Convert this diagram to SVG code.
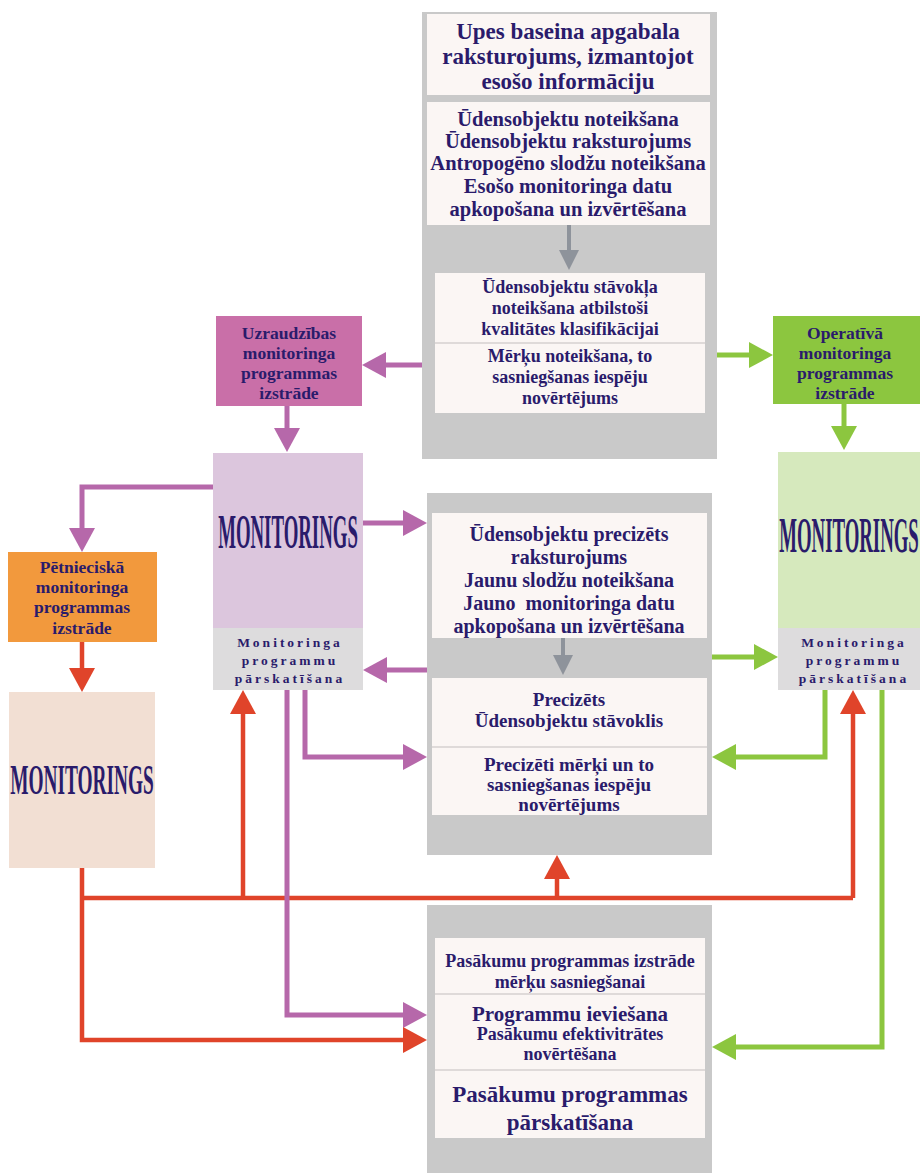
<svg xmlns="http://www.w3.org/2000/svg" width="920" height="1173" viewBox="0 0 920 1173">
<style>
.t{font-family:"Liberation Serif","DejaVu Serif",serif;font-weight:bold;fill:#2a1b6b;text-anchor:middle}
.big{font-size:23px}
.mid{font-size:20.5px}
.sm{font-size:18px}
.xs{font-size:17.5px}
.sp{font-family:"Liberation Serif","DejaVu Serif",serif;font-weight:bold;fill:#2a1b6b;text-anchor:middle;font-size:13.5px;letter-spacing:3px}
.mon{font-family:"Liberation Serif","DejaVu Serif",serif;font-weight:bold;fill:#2a1b6b;text-anchor:middle}
.col{fill:#c9c9c9}
.in{fill:#fbf6f4}
.dv{stroke:#d6d0d0;stroke-width:1.5}
.pu{fill:none;stroke:#b668aa;stroke-width:5}
.gr{fill:none;stroke:#8cc63f;stroke-width:5}
.rd{fill:none;stroke:#e0442a;stroke-width:4.5}
.gy{fill:none;stroke:#8e939b;stroke-width:4}
</style>
<defs>
<marker id="mp" markerUnits="userSpaceOnUse" markerWidth="24" markerHeight="26" refX="0" refY="13" orient="auto"><path d="M0,0 L24,13 L0,26 z" fill="#b668aa"/></marker>
<marker id="mg" markerUnits="userSpaceOnUse" markerWidth="24" markerHeight="26" refX="0" refY="13" orient="auto"><path d="M0,0 L24,13 L0,26 z" fill="#8cc63f"/></marker>
<marker id="mr" markerUnits="userSpaceOnUse" markerWidth="24" markerHeight="26" refX="0" refY="13" orient="auto"><path d="M0,0 L24,13 L0,26 z" fill="#e0442a"/></marker>
<marker id="my" markerUnits="userSpaceOnUse" markerWidth="20" markerHeight="20" refX="0" refY="10" orient="auto"><path d="M0,0 L20,10 L0,20 z" fill="#8e939b"/></marker>
</defs>
<rect width="920" height="1173" fill="#ffffff"/>

<g id="top-column">
<rect class="col" x="422" y="12" width="295" height="447"/>
<rect class="in" x="427" y="14" width="283" height="81" fill="#f7f0f1"/>
<text class="t big" x="568" y="39">Upes baseina apgabala</text>
<text class="t big" x="568" y="64">raksturojums, izmantojot</text>
<text class="t big" x="568" y="89">esošo informāciju</text>
<rect class="in" x="427" y="102" width="283" height="123"/>
<text class="t mid" x="568" y="126">Ūdensobjektu noteikšana</text>
<text class="t mid" x="568" y="148">Ūdensobjektu raksturojums</text>
<text class="t mid" x="568" y="170">Antropogēno slodžu noteikšana</text>
<text class="t mid" x="568" y="193">Esošo monitoringa datu</text>
<text class="t mid" x="568" y="216">apkopošana un izvērtēšana</text>
<rect class="in" x="435" y="273" width="270" height="140"/>
<line class="dv" x1="435" y1="343" x2="705" y2="343"/>
<text class="t sm" x="570" y="293">Ūdensobjektu stāvokļa</text>
<text class="t sm" x="570" y="314">noteikšana atbilstoši</text>
<text class="t sm" x="570" y="335">kvalitātes klasifikācijai</text>
<text class="t sm" x="570" y="362">Mērķu noteikšana, to</text>
<text class="t sm" x="570" y="383">sasniegšanas iespēju</text>
<text class="t sm" x="570" y="404">novērtējums</text>
</g>

<g id="uzraudzibas">
<rect x="216" y="316" width="146" height="90" fill="#c96fa8"/>
<text class="t xs" x="289" y="339">Uzraudzības</text>
<text class="t xs" x="289" y="359">monitoringa</text>
<text class="t xs" x="289" y="379">programmas</text>
<text class="t xs" x="289" y="399">izstrāde</text>
</g>

<g id="operativa">
<rect x="773" y="316" width="150" height="88" fill="#8cc63f"/>
<text class="t xs" x="845" y="339">Operatīvā</text>
<text class="t xs" x="845" y="359">monitoringa</text>
<text class="t xs" x="845" y="379">programmas</text>
<text class="t xs" x="845" y="399">izstrāde</text>
</g>

<g id="monitorings-left">
<rect x="213" y="453" width="150" height="175" fill="#dcc6dd"/>
<rect x="213" y="628" width="150" height="62" fill="#dddcdd"/>
<text class="mon" transform="translate(288,548) scale(0.392,1)" font-size="48">MONITORINGS</text>
<text class="sp" x="290" y="647">Monitoringa</text>
<text class="sp" x="290" y="665">programmu</text>
<text class="sp" x="290" y="683">pārskatīšana</text>
</g>

<g id="monitorings-right">
<rect x="778" y="452" width="145" height="176" fill="#d6e9bd"/>
<rect x="778" y="628" width="145" height="62" fill="#dddcdd"/>
<text class="mon" transform="translate(849,552) scale(0.376,1)" font-size="50">MONITORINGS</text>
<text class="sp" x="854" y="647">Monitoringa</text>
<text class="sp" x="854" y="665">programmu</text>
<text class="sp" x="854" y="683">pārskatīšana</text>
</g>

<g id="center-column">
<rect class="col" x="427" y="493" width="285" height="362"/>
<rect class="in" x="432" y="513" width="275" height="125"/>
<text class="t" font-size="20" x="569" y="541">Ūdensobjektu precizēts</text>
<text class="t" font-size="20" x="569" y="564">raksturojums</text>
<text class="t" font-size="20" x="569" y="587">Jaunu slodžu noteikšana</text>
<text class="t" font-size="20" x="569" y="610" xml:space="preserve">Jauno  monitoringa datu</text>
<text class="t" font-size="20" x="569" y="633">apkopošana un izvērtēšana</text>
<rect class="in" x="432" y="678" width="275" height="137"/>
<line class="dv" x1="432" y1="747" x2="707" y2="747"/>
<text class="t" font-size="19" x="569" y="706">Precizēts</text>
<text class="t" font-size="19" x="569" y="727">Ūdensobjektu stāvoklis</text>
<text class="t" font-size="19" x="569" y="771">Precizēti mērķi un to</text>
<text class="t" font-size="19" x="569" y="791">sasniegšanas iespēju</text>
<text class="t" font-size="19" x="569" y="811">novērtējums</text>
</g>

<g id="petnieciska">
<rect x="8" y="552" width="149" height="90" fill="#f2993d"/>
<text class="t xs" x="82" y="573">Pētnieciskā</text>
<text class="t xs" x="82" y="593">monitoringa</text>
<text class="t xs" x="82" y="613">programmas</text>
<text class="t xs" x="82" y="634">izstrāde</text>
</g>

<g id="monitorings-bottom-left">
<rect x="9" y="692" width="146" height="176" fill="#f2dfd3"/>
<text class="mon" transform="translate(82,794) scale(0.461,1)" font-size="42">MONITORINGS</text>
</g>

<g id="bottom-column">
<rect class="col" x="427" y="905" width="285" height="268"/>
<rect class="in" x="435" y="938" width="270" height="200"/>
<line class="dv" x1="435" y1="994" x2="705" y2="994"/>
<line class="dv" x1="435" y1="1070" x2="705" y2="1070"/>
<text class="t" x="570" y="967" font-size="18">Pasākumu programmas izstrāde</text>
<text class="t" x="570" y="988" font-size="18">mērķu sasniegšanai</text>
<text class="t" x="570" y="1021" font-size="21">Programmu ieviešana</text>
<text class="t" x="570" y="1040" font-size="18">Pasākumu efektivitrātes</text>
<text class="t" x="570" y="1060" font-size="18">novērtēšana</text>
<text class="t" x="570" y="1102" font-size="23">Pasākumu programmas</text>
<text class="t" x="570" y="1130" font-size="23">pārskatīšana</text>
</g>

<g id="connectors">
<path class="gy" d="M569,225 V250" marker-end="url(#my)"/>
<path class="gy" d="M563,638 V655" marker-end="url(#my)"/>
<path class="pu" d="M422,365 H386" marker-end="url(#mp)"/>
<path class="pu" d="M287,406 V428" marker-end="url(#mp)"/>
<path class="gr" d="M717,355 H749" marker-end="url(#mg)"/>
<path class="gr" d="M844,404 V426" marker-end="url(#mg)"/>
<path class="pu" d="M363,523 H403" marker-end="url(#mp)"/>
<path class="pu" d="M427,670 H387" marker-end="url(#mp)"/>
<path class="pu" d="M213,487 H82 V528" marker-end="url(#mp)"/>
<path class="gr" d="M712,657 H754" marker-end="url(#mg)"/>
<path class="rd" d="M82,642 V668" marker-end="url(#mr)"/>
<path class="rd" d="M82,898 H853"/>
<path class="rd" d="M243,898 V714" marker-end="url(#mr)"/>
<path class="rd" d="M557,898 V879" marker-end="url(#mr)"/>
<path class="rd" d="M853,898 V714" marker-end="url(#mr)"/>
<path class="pu" d="M287,690 V1015 H403" marker-end="url(#mp)"/>
<path class="pu" d="M305,690 V757 H403" marker-end="url(#mp)"/>
<path class="rd" d="M82,868 V1040 H403" marker-end="url(#mr)"/>
<path class="gr" d="M825,690 V757 H736" marker-end="url(#mg)"/>
<path class="gr" d="M882,690 V1047 H736" marker-end="url(#mg)"/>
</g>
</svg>
